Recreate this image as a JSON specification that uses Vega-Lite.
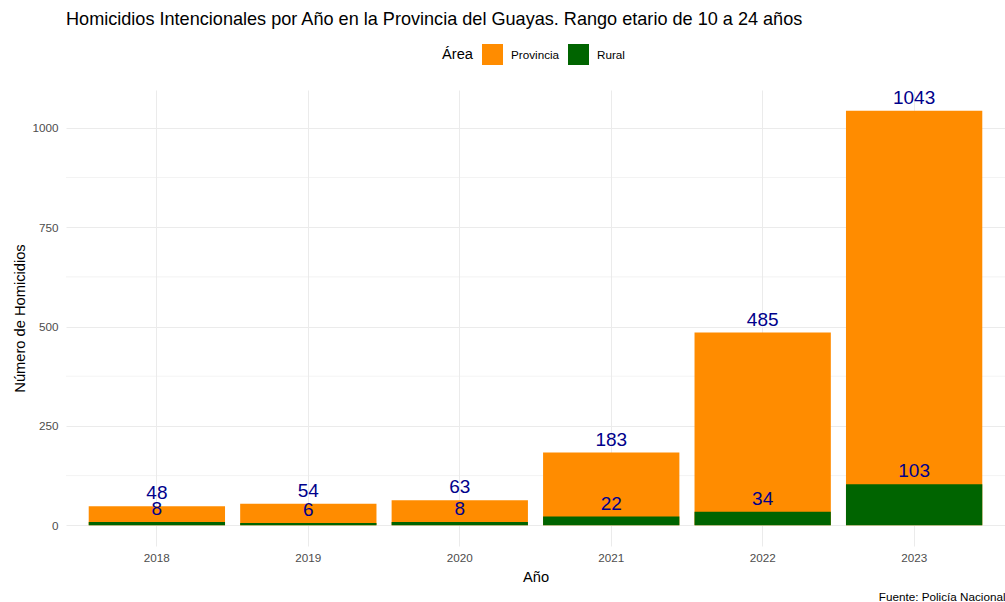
{
  "$schema": "https://vega.github.io/schema/vega-lite/v6.json",
  "width": 939,
  "height": 456,
  "autosize": {"type": "none"},
  "padding": {"left": 66, "top": 90, "right": 0, "bottom": 56},
  "background": "white",
  "config": {
    "font": "Liberation Sans",
    "view": {"stroke": null},
    "axis": {"domain": false, "ticks": false, "tickSize": 0, "gridColor": "#EBEBEB", "gridWidth": 1, "labelColor": "#4D4D4D", "labelFontSize": 11.7, "titleFontSize": 14.67, "titleFontWeight": "normal", "titleColor": "black"}
  },
  "title": {
    "text": "Homicidios Intencionales por Año en la Provincia del Guayas. Rango etario de 10 a 24 años",
    "anchor": "start",
    "frame": "group",
    "fontSize": 18.1,
    "fontWeight": "normal",
    "color": "black",
    "baseline": "top",
    "offset": 15
  },
  "datasets": {
    "bars": [
      {"anio": "2018", "area": "Provincia", "n": 48},
      {"anio": "2019", "area": "Provincia", "n": 54},
      {"anio": "2020", "area": "Provincia", "n": 63},
      {"anio": "2021", "area": "Provincia", "n": 183},
      {"anio": "2022", "area": "Provincia", "n": 485},
      {"anio": "2023", "area": "Provincia", "n": 1043},
      {"anio": "2018", "area": "Rural", "n": 8},
      {"anio": "2019", "area": "Rural", "n": 6},
      {"anio": "2020", "area": "Rural", "n": 8},
      {"anio": "2021", "area": "Rural", "n": 22},
      {"anio": "2022", "area": "Rural", "n": 34},
      {"anio": "2023", "area": "Rural", "n": 103}
    ],
    "minor": [{"v": 125}, {"v": 375}, {"v": 625}, {"v": 875}]
  },
  "layer": [
    {
      "data": {"name": "minor"},
      "mark": {"type": "rule", "color": "#EBEBEB", "strokeWidth": 0.6},
      "encoding": {
        "y": {
          "field": "v", "type": "quantitative",
          "scale": {"domain": [-52.15, 1095.15], "nice": false, "zero": false},
          "axis": {"title": "Número de Homicidios", "values": [0, 250, 500, 750, 1000], "format": "d", "labelPadding": 8, "titlePadding": 4, "grid": true}
        }
      }
    },
    {
      "data": {"name": "bars"},
      "mark": {"type": "bar"},
      "encoding": {
        "x": {
          "field": "anio", "type": "ordinal",
          "scale": {"paddingInner": 0.1, "paddingOuter": 0.15},
          "axis": {"title": "Año", "labelAngle": 0, "labelPadding": 6, "titlePadding": 6, "grid": true, "bandPosition": 0.5}
        },
        "y": {"field": "n", "type": "quantitative", "stack": null},
        "color": {
          "field": "area", "type": "nominal",
          "scale": {"domain": ["Provincia", "Rural"], "range": ["#FF8C00", "#006400"]},
          "legend": {
            "title": "Área", "orient": "none", "direction": "horizontal",
            "legendX": 376, "legendY": -46,
            "titleOrient": "left", "titleFontSize": 14.67, "titleFontWeight": "normal", "titleColor": "black", "titlePadding": 9,
            "labelFontSize": 11.7, "labelColor": "black", "labelOffset": 8, "columnPadding": 8,
            "symbolType": "square", "symbolSize": 441, "symbolStrokeWidth": 0, "symbolOpacity": 1, "padding": 0
          }
        }
      }
    },
    {
      "data": {"name": "bars"},
      "mark": {"type": "text", "color": "#00008B", "fontSize": 19, "baseline": "alphabetic", "dy": -7},
      "encoding": {
        "x": {"field": "anio", "type": "ordinal", "axis": {"orient": "bottom", "title": "Fuente: Policía Nacional", "titleAnchor": "end", "titleFontSize": 11.7, "titlePadding": 45, "labels": false, "grid": false, "titleBaseline": "top"}},
        "y": {"field": "n", "type": "quantitative", "stack": null},
        "text": {"field": "n", "type": "quantitative"}
      }
    }
  ],
  "resolve": {"axis": {"x": "independent"}}
}
